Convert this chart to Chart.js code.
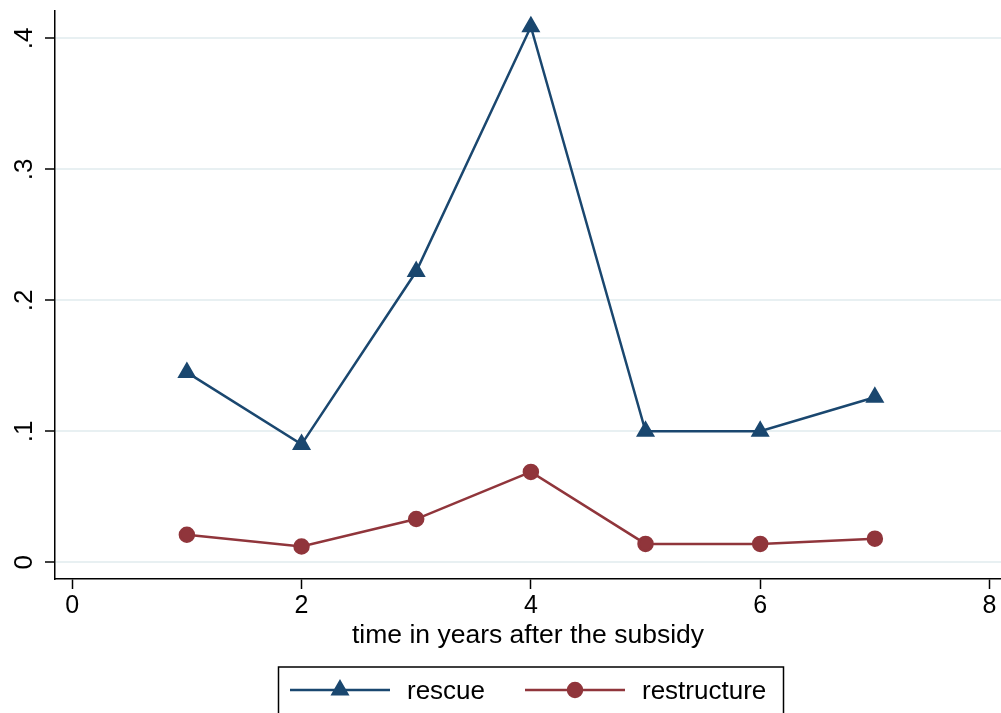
<!DOCTYPE html>
<html>
<head>
<meta charset="utf-8">
<script src="https://cdn.jsdelivr.net/npm/chart.js@4/dist/chart.umd.min.js"></script>
<style>
html, body { margin: 0; padding: 0; background: #fff; }
#wrap { width: 1001px; height: 713px; position: relative; }
</style>
</head>
<body>
<div id="wrap"><canvas id="chart"></canvas></div>
<script>
// values
const years = [1, 2, 3, 4, 5, 6, 7];
const rescue = [0.145, 0.090, 0.222, 0.409, 0.100, 0.100, 0.126];
const restructure = [0.021, 0.012, 0.033, 0.069, 0.014, 0.014, 0.018];
const xTicks = [0, 2, 4, 6, 8];
const yTicks = [0, 0.1, 0.2, 0.3, 0.4];
const seriesNames = ['rescue', 'restructure'];
const xTitle = 'time in years after the subsidy';

const NAVY = '#1a476f';
const MAROON = '#90353b';
const FONT = '"Liberation Sans", Arial, sans-serif';

function toPoints(values) {
    return years.map((x, i) => ({ x: x, y: values[i] }));
}

function yLabel(v) {
    if (v === 0) return '0';
    return String(v).replace(/^0/, '');
}

// y labels turned on their side, axis title and the boxed legend, Stata style
const stataExtras = {
    id: 'stataExtras',
    afterDraw(chart) {
        const ctx = chart.ctx;
        const yScale = chart.scales.y;
        const area = chart.chartArea;

        ctx.save();
        ctx.fillStyle = '#000';
        ctx.font = '26px ' + FONT;
        ctx.textAlign = 'center';
        ctx.textBaseline = 'alphabetic';
        yTicks.forEach(v => {
            const py = yScale.getPixelForValue(v);
            ctx.save();
            ctx.translate(32, py);
            ctx.rotate(-Math.PI / 2);
            ctx.fillText(yLabel(v), 0, 0);
            ctx.restore();
        });

        // x axis title
        ctx.font = '26.5px ' + FONT;
        ctx.fillText(xTitle, (area.left + area.right) / 2, 643);

        // legend
        ctx.font = '26px ' + FONT;
        ctx.strokeStyle = '#000';
        ctx.lineWidth = 1.5;
        ctx.strokeRect(278.5, 667, 505, 60);

        const starts = [290, 525];
        ctx.textAlign = 'left';
        chart.data.datasets.forEach((ds, i) => {
            const x0 = starts[i];
            const ly = 690;
            ctx.strokeStyle = ds.borderColor;
            ctx.lineWidth = 2.5;
            ctx.beginPath();
            ctx.moveTo(x0, ly);
            ctx.lineTo(x0 + 100, ly);
            ctx.stroke();
            ctx.fillStyle = ds.pointBackgroundColor;
            ctx.strokeStyle = ds.pointBorderColor;
            Chart.helpers.drawPoint(ctx, {
                pointStyle: ds.pointStyle,
                radius: ds.pointRadius,
                rotation: 0,
                borderWidth: 1
            }, x0 + 50, ly);
            ctx.fillStyle = '#000';
            ctx.fillText(seriesNames[i], x0 + 117, 699);
        });
        ctx.restore();
    }
};

const ctx = document.getElementById('chart').getContext('2d');
const myChart = new Chart(ctx, {
    type: 'line',
    data: {
        datasets: [{
            label: seriesNames[0],
            data: toPoints(rescue),
            borderColor: NAVY,
            backgroundColor: NAVY,
            pointBackgroundColor: NAVY,
            pointBorderColor: NAVY,
            pointStyle: 'triangle',
            pointRadius: 8.5,
            borderWidth: 2.5
        }, {
            label: seriesNames[1],
            data: toPoints(restructure),
            borderColor: MAROON,
            backgroundColor: MAROON,
            pointBackgroundColor: MAROON,
            pointBorderColor: MAROON,
            pointStyle: 'circle',
            pointRadius: 7,
            borderWidth: 2.5
        }]
    },
    options: {
        responsive: true,
        maintainAspectRatio: false,
        animation: false,
        layout: { autoPadding: false, padding: { left: 0, top: 11, right: 0, bottom: 0 } },
        plugins: {
            legend: { display: false },
            tooltip: { enabled: false }
        },
        scales: {
            x: {
                type: 'linear',
                min: -0.15,
                max: 8.1,
                afterBuildTicks: scale => { scale.ticks = xTicks.map(v => ({ value: v })); },
                afterFit: scale => { scale.height = 134; },
                grid: {
                    drawOnChartArea: false,
                    drawTicks: true,
                    tickLength: 10,
                    tickColor: '#000',
                    tickWidth: 1.5
                },
                border: { display: true, color: '#000', width: 1.5 },
                ticks: {
                    color: '#000',
                    font: { family: FONT, size: 25 },
                    padding: 2,
                    maxRotation: 0,
                    callback: v => String(v)
                }
            },
            y: {
                type: 'linear',
                min: -0.0128,
                max: 0.421,
                afterBuildTicks: scale => { scale.ticks = yTicks.map(v => ({ value: v })); },
                afterFit: scale => { scale.width = 55; },
                grid: {
                    color: '#e8f0f2',
                    lineWidth: 2,
                    drawTicks: true,
                    tickLength: 10,
                    tickColor: '#000',
                    tickWidth: 1.5
                },
                border: { display: true, color: '#000', width: 1.5 },
                ticks: { display: false }
            }
        }
    },
    plugins: [stataExtras]
});
</script>
</body>
</html>
